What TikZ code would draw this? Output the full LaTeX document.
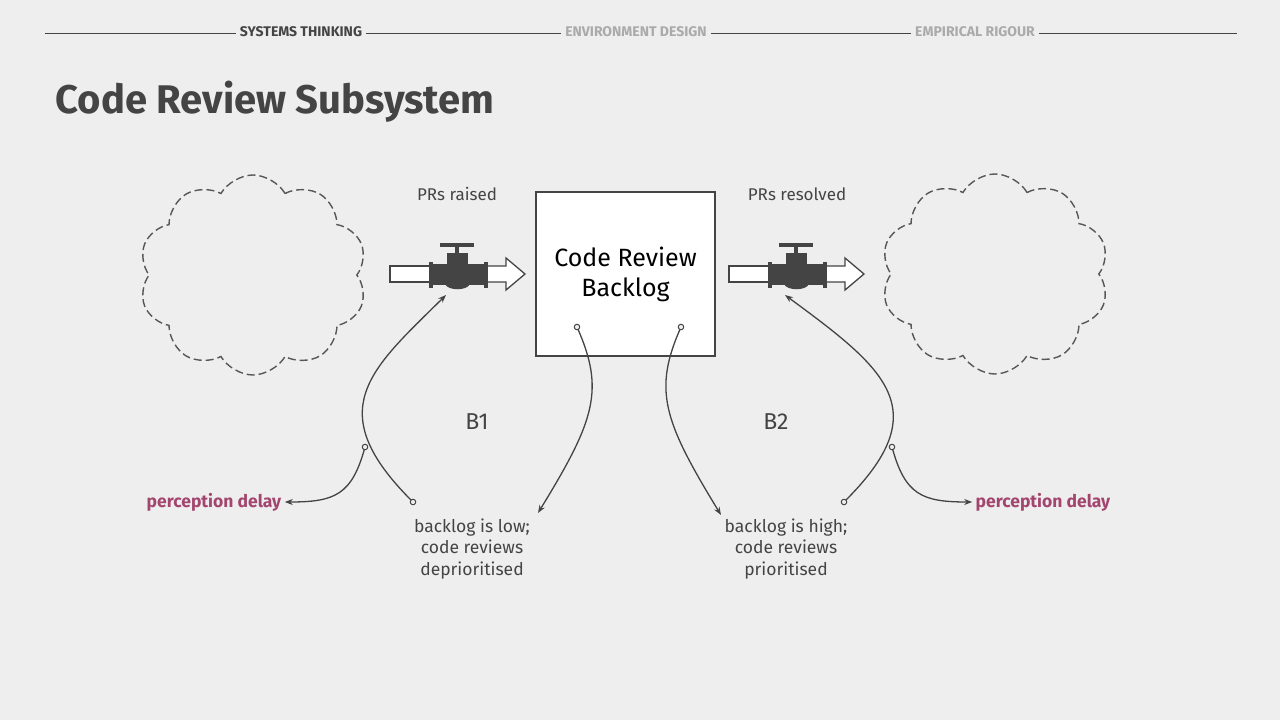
\documentclass[tikz,border=0pt]{standalone}
\usepackage{fontspec}
\setmainfont{Fira Sans}
\usetikzlibrary{shapes.symbols,arrows.meta}
\definecolor{bg}{HTML}{EEEEEE}
\definecolor{ink}{HTML}{444444}
\definecolor{mag}{HTML}{A3466F}
\definecolor{hdr}{HTML}{AAAAAA}
\begin{document}
\begin{tikzpicture}[x=1pt,y=-1pt,
  cloudy/.style={cloud,cloud puffs=10,cloud puff arc=120,aspect=1.1,draw=ink!90,dash pattern=on 8pt off 4pt,line width=1.4pt,minimum width=228pt,minimum height=200pt},
  lnk/.style={draw=ink,line width=1.3pt,-{Stealth[length=8pt,width=6pt]}},
  dot/.style={circle,draw=ink,fill=bg,line width=1pt,inner sep=0pt,minimum size=5.5pt},
  lbl/.style={text=ink,font=\fontsize{17}{20}\selectfont,align=center},
  pd/.style={text=mag,font=\fontsize{17.5}{20}\selectfont\bfseries},
  hd/.style={font=\fontsize{14}{16}\selectfont\bfseries,inner sep=4pt}]
\fill[bg] (0,0) rectangle (1280,720);
\useasboundingbox (0,0) rectangle (1280,720);
% header
\node[hd,text=ink] (h1) at (301,32) {SYSTEMS THINKING};
\node[hd,text=hdr] (h2) at (636,32) {ENVIRONMENT DESIGN};
\node[hd,text=hdr] (h3) at (975,32) {EMPIRICAL RIGOUR};
\coordinate (hl) at (45,33); \coordinate (hr) at (1237,33);
\draw[ink,line width=1pt] (hl) -- (h1.west|-hl) (h1.east|-hl) -- (h2.west|-hl) (h2.east|-hl) -- (h3.west|-hl) (h3.east|-hl) -- (hr);
\node[anchor=west,text=ink,font=\fontsize{40}{48}\selectfont\bfseries] (title) at (52,102) {Code Review Subsystem};
% clouds
\node[cloudy] (c1) at (253,275) {};
\node[cloudy] (c2) at (995,274) {};
% box
\node[draw=ink,fill=white,line width=1.4pt,minimum width=179pt,minimum height=164pt,font=\fontsize{25}{30}\selectfont,align=center,text=black] (box) at (625.5,274) {Code Review\\Backlog};
% valves
\foreach \dx/\nm in {0/a,339/b}{
 \begin{scope}[xshift=\dx]
  \draw[ink,fill=white,line width=1.3pt] (390,266) rectangle (432,282);
  \draw[ink,fill=white,line width=1.3pt] (484,266) -- (506,266) -- (506,258) -- (525,274) -- (506,290) -- (506,282) -- (484,282) -- cycle;
  \fill[ink] (433,264) rectangle (486,285);
  \fill[ink] (429,262) rectangle (433,288);
  \fill[ink] (484,262) rectangle (488,288);
  \fill[ink] (447,253) rectangle (468,264);
  \fill[ink] (455,246) rectangle (459,253);
  \fill[ink] (440,243) rectangle (474,247);
  \fill[ink] (445,284) .. controls (448,291) and (467,291) .. (470,284) -- cycle;
  \coordinate (v\nm) at (446,295);
 \end{scope}}
\node[lbl] (pr) at (457,194) {PRs raised};
\node[lbl] (ps) at (797,194) {PRs resolved};
\node[text=ink,font=\fontsize{23}{27}\selectfont] (b1) at (477,422) {B1};
\node[text=ink,font=\fontsize{23}{27}\selectfont] (b2) at (776,422) {B2};
\node[lbl,font=\fontsize{17.5}{21.5}\selectfont] (low) at (472,549) {backlog is low;\\code reviews\\deprioritised};
\node[lbl,font=\fontsize{17.5}{21.5}\selectfont] (high) at (786,549) {backlog is high;\\code reviews\\prioritised};
\node[pd] (pd1) at (214,502) {perception delay};
\node[pd] (pd2) at (1043,502) {perception delay};
% connectors
\coordinate (la) at (538,513); \coordinate (ha) at (721,515);
\draw[lnk] (577,327) .. controls (605,390) and (595,420) .. (la);
\draw[lnk] (681,327) .. controls (653,390) and (663,420) .. (ha);
\draw[lnk] (413,502) .. controls (320,410) and (370,370) .. (va);
\draw[lnk] (844,502) .. controls (937,410) and (887,370) .. (vb);
\draw[lnk] (365,447) .. controls (352,495) and (335,502) .. (pd1.east);
\draw[lnk] (892,447) .. controls (905,495) and (922,502) .. (pd2.west);
\node[dot] (d1) at (577,327) {};
\node[dot] (d2) at (681,327) {};
\node[dot] (d3) at (413,502) {};
\node[dot] (d4) at (844,502) {};
\node[dot] (d5) at (365,447) {};
\node[dot] (d6) at (892,447) {};
\end{tikzpicture}
\end{document}
